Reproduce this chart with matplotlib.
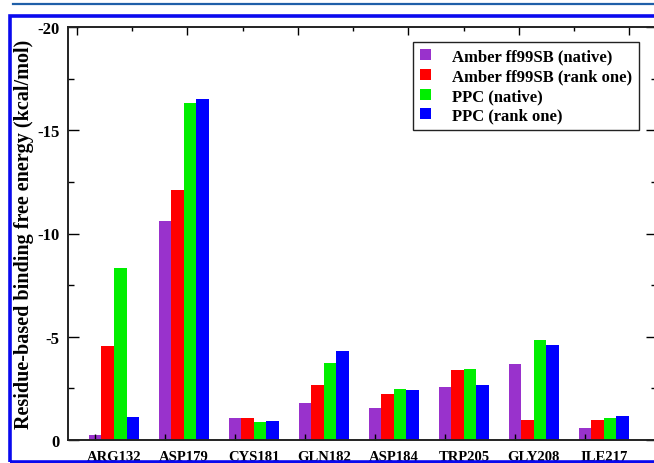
import numpy as np
import matplotlib
matplotlib.use("Agg")
import matplotlib.pyplot as plt
from matplotlib.patches import Rectangle, Patch
from matplotlib.lines import Line2D

plt.rcParams['font.family'] = ['Liberation Serif', 'DejaVu Serif']
plt.rcParams['font.weight'] = 'bold'

# residues and per-residue binding free energies (kcal/mol)
residues = ["ARG132", "ASP179", "CYS181", "GLN182", "ASP184", "TRP205", "GLY208", "ILE217"]
amber_native = [-0.25, -10.6, -1.05, -1.8, -1.55, -2.55, -3.7, -0.6]
amber_rank1 = [-4.55, -12.1, -1.05, -2.65, -2.25, -3.4, -0.95, -0.95]
ppc_native = [-8.35, -16.3, -0.85, -3.75, -2.45, -3.45, -4.85, -1.05]
ppc_rank1 = [-1.1, -16.5, -0.9, -4.3, -2.4, -2.65, -4.6, -1.15]

series = [amber_native, amber_rank1, ppc_native, ppc_rank1]
labels = ["Amber ff99SB (native)", "Amber ff99SB (rank one)",
          "PPC (native)", "PPC (rank one)"]
colors = ["#9932cc", "#ff0000", "#00ee00", "#0000ff"]

W, H = 654, 464
fig = plt.figure(figsize=(W / 100, H / 100), dpi=100)
ax = fig.add_axes([68 / W, (H - 441) / H, (657 - 68) / W, (441 - 28) / H])

x = np.arange(len(residues))
barWidth = 0.18
for k, vals in enumerate(series):
    ax.bar(x + k * barWidth, vals, width=barWidth, color=colors[k], linewidth=0)

ax.set_xlim(-0.386, 8.03)
ax.set_ylim(0, -20)

# ticks at the first bar of each group, labels centred under the group
ax.set_xticks(x)
ax.set_xticklabels([])
ax.set_xticks(x + 1.5 * barWidth, minor=True)
ax.set_xticklabels(residues, minor=True, fontsize=10.5, fontweight='bold')
ax.tick_params(axis='x', which='major', direction='in', length=4, width=1, top=False)
ax.tick_params(axis='x', which='minor', length=0, pad=7)

ax.set_yticks([0, -5, -10, -15, -20])
ax.set_yticklabels(["0", "-5", "-10", "-15", "-20"], fontsize=12, fontweight='bold')
ax.set_yticks(np.arange(-2.5, -20, -5), minor=True)
ax.tick_params(axis='y', which='major', direction='in', length=8, width=1, right=True, pad=6)
ax.tick_params(axis='y', which='minor', direction='in', length=4, width=1, right=True)

# top axis ticks on their own scale
top = ax.twiny()
top.set_xlim(-0.161, 10.5)
top.set_xticks(np.arange(0, 11, 2))
top.set_xticks(np.arange(1, 11, 2), minor=True)
top.set_xticklabels([])
top.tick_params(axis='x', which='major', direction='in', length=6, width=1)
top.tick_params(axis='x', which='minor', direction='in', length=3, width=1)

for a in (ax, top):
    for s in a.spines.values():
        s.set_linewidth(1.2)
        s.set_color('#222222')

ax.set_ylabel("Residue-based binding free energy (kcal/mol)", fontsize=14.5,
              fontweight='bold')
ax.yaxis.set_label_coords(-0.057, 0.5)

handles = [Patch(facecolor=c, edgecolor='none') for c in colors]
leg = fig.legend(handles, labels, loc='upper left',
                 bbox_to_anchor=(413 / W, 1 - 43 / H), bbox_transform=fig.transFigure,
                 fancybox=False, framealpha=1, edgecolor='#222222',
                 prop={'size': 12, 'weight': 'bold'},
                 handlelength=0.65, handleheight=0.65, handletextpad=1.3,
                 labelspacing=0.22, borderpad=0.4, borderaxespad=0)
leg.get_frame().set_linewidth(1.0)

# journal frame around the figure
fig.patches.append(Rectangle((10 / W, 1.5 / H), 1.2, (462 - 16.5) / H,
                             transform=fig.transFigure, fill=False,
                             edgecolor='#0a0aee', linewidth=2.6, zorder=10))
fig.lines.append(Line2D([13 / W, 1], [1 - 4.5 / H, 1 - 4.5 / H],
                        transform=fig.transFigure, color='#1f5fa8', linewidth=1.6))

fig.savefig("out.png", dpi=100)
